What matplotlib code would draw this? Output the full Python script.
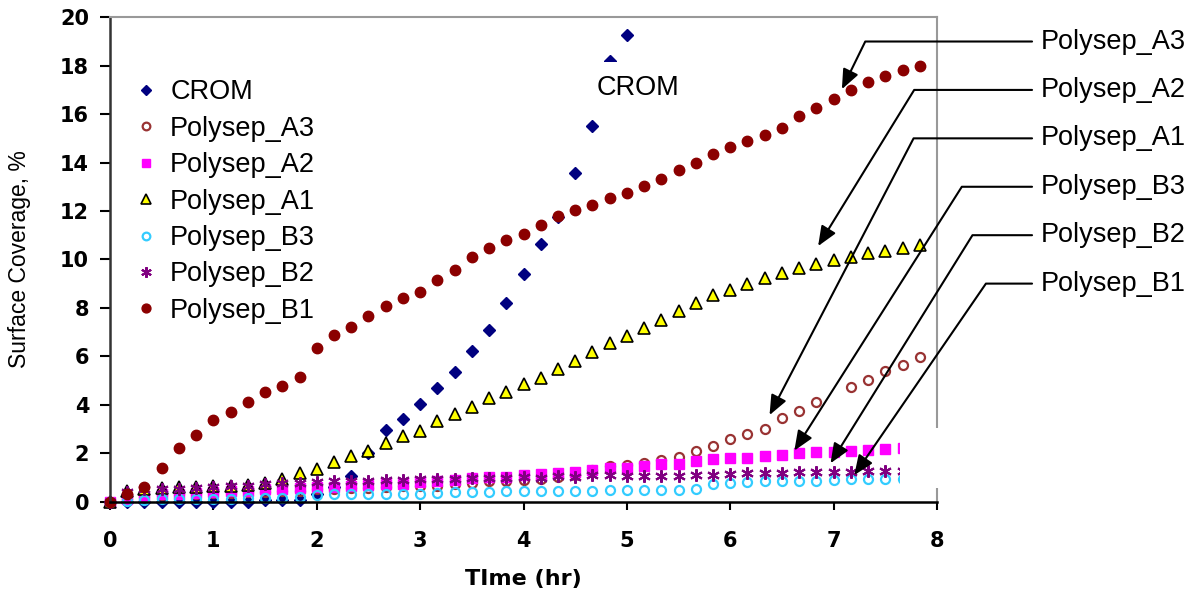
import numpy as np
import matplotlib
matplotlib.use("Agg")
import matplotlib.pyplot as plt
from matplotlib.patches import Rectangle

plt.rcParams['font.family'] = ['Liberation Sans', 'DejaVu Sans']

# sampling every 10 minutes (hours)
step = 1 / 6

crom = [0, 0, 0, 0, 0, 0, 0, 0, 0, 0.05, 0.05, 0.05, 0.3, 0.6, 1.05, 2.0,
        2.95, 3.42, 4.03, 4.7, 5.35, 6.2, 7.07, 8.2, 9.4, 10.65, 11.75, 13.55,
        15.5, 18.2, 19.25]
a3 = [0, 0.1, 0.2, 0.25, 0.3, 0.3, 0.35, 0.35, 0.4, 0.4, 0.45, 0.45, 0.5, 0.5,
      0.55, 0.55, 0.6, 0.62, 0.66, 0.66, 0.72, 0.78, 0.86, 0.86, 0.9, 0.95,
      1.0, 1.1, 1.3, 1.47, 1.5, 1.61, 1.7, 1.84, 2.1, 2.3, 2.58, 2.8, 3.0,
      3.45, 3.72, 4.1, np.nan, 4.71, 5.02, 5.4, 5.64, 5.98]
a2 = [0, 0.1, 0.2, 0.3, 0.33, 0.36, 0.38, 0.42, 0.45, 0.5, 0.52, 0.55, 0.58,
      0.6, 0.63, 0.7, 0.72, 0.74, 0.8, 0.85, 0.9, 0.97, 1.0, 1.02, 1.08, 1.14,
      1.17, 1.23, 1.3, 1.37, 1.4, 1.45, 1.53, 1.56, 1.67, 1.77, 1.8, 1.81,
      1.86, 1.94, 2.02, 2.04, 2.05, 2.08, 2.14, 2.15, 2.2]
a1 = [0, 0.45, 0.5, 0.55, 0.6, 0.6, 0.62, 0.65, 0.7, 0.78, 0.95, 1.17, 1.36,
      1.63, 1.86, 2.08, 2.4, 2.72, 2.93, 3.31, 3.62, 3.92, 4.27, 4.54, 4.86,
      5.1, 5.47, 5.82, 6.19, 6.54, 6.84, 7.15, 7.49, 7.85, 8.19, 8.52, 8.74,
      8.97, 9.22, 9.42, 9.66, 9.82, 9.96, 10.11, 10.25, 10.34, 10.48, 10.59]
b3 = [0, 0.03, 0.08, 0.12, 0.12, 0.12, 0.12, 0.12, 0.13, 0.15, 0.15, 0.18,
      0.25, 0.3, 0.3, 0.31, 0.3, 0.31, 0.32, 0.34, 0.4, 0.4, 0.4, 0.44, 0.45,
      0.45, 0.45, 0.45, 0.45, 0.46, 0.48, 0.48, 0.48, 0.48, 0.52, 0.72, 0.75,
      0.79, 0.83, 0.83, 0.83, 0.84, 0.89, 0.93, 0.93, 0.93, 0.92]
b2 = [0, 0.4, 0.5, 0.52, 0.52, 0.55, 0.6, 0.62, 0.65, 0.72, 0.78, 0.78, 0.8,
      0.83, 0.86, 0.85, 0.88, 0.9, 0.93, 0.93, 0.95, 0.97, 0.97, 0.98, 1.0,
      0.98, 1.04, 1.03, 1.08, 1.08, 1.05, 1.05, 1.07, 1.07, 1.1, 1.1, 1.15,
      1.18, 1.18, 1.18, 1.23, 1.2, 1.23, 1.23, 1.26, 1.26, 1.25]
b1 = [0, 0.3, 0.6, 1.39, 2.2, 2.76, 3.35, 3.69, 4.13, 4.54, 4.79, 5.14, 6.34,
      6.87, 7.22, 7.67, 8.08, 8.42, 8.67, 9.14, 9.56, 10.11, 10.47, 10.82,
      11.06, 11.41, 11.81, 12.02, 12.25, 12.55, 12.74, 13.03, 13.32, 13.69,
      13.99, 14.35, 14.65, 14.9, 15.13, 15.42, 15.91, 16.27, 16.63, 16.98,
      17.34, 17.57, 17.82, 18.0]

# callout labels on the right and the points they point at
callout_labels = ['Polysep_A3', 'Polysep_A2', 'Polysep_A1',
                  'Polysep_B3', 'Polysep_B2', 'Polysep_B1']
callout_text_y = [19, 17, 15, 13, 11, 9]
callout_tips = [(7.08, 17.03), (6.85, 10.55), (6.38, 3.57),
                (6.62, 2.10), (6.97, 1.58), (7.20, 1.09)]
callout_angles = [63.9, 58.4, 62.5, 57.6, 58.1, 55.5]


def times(vals):
    return np.arange(len(vals)) * step


fig = plt.figure(figsize=(12.01, 5.97), dpi=100)
ax = fig.add_axes([110 / 1201, 95.5 / 597, 827 / 1201, 484.2 / 597])

kw = dict(linestyle='none', clip_on=False)
ax.plot(times(crom), crom, marker='D', ms=6, color='#000080', label='CROM', **kw)
ax.plot(times(a3), a3, marker='o', ms=6.5, mfc='none', mec='#993333', mew=1.6,
        label='Polysep_A3', **kw)
ax.plot(times(a2), a2, marker='s', ms=7, color='#FF00FF', label='Polysep_A2', **kw)
ax.plot(times(a1), a1, marker='^', ms=8.5, mfc='#FFFF00', mec='black', mew=1.2,
        label='Polysep_A1', **kw)
ax.plot(times(b3), b3, marker='o', ms=6.5, mfc='none', mec='#33CCFF', mew=1.6,
        label='Polysep_B3', **kw)
ax.plot(times(b2), b2, marker=(6, 2, 0), ms=9, mec='#800080', mew=1.5,
        label='Polysep_B2', **kw)
ax.plot(times(b1), b1, marker='o', ms=7.5, color='#8B0000', label='Polysep_B1', **kw)

ax.set_xlim(0, 8)
ax.set_ylim(0, 20)
ax.set_xticks(range(0, 9))
ax.set_yticks(range(0, 21, 2))
for lab in ax.get_xticklabels() + ax.get_yticklabels():
    lab.set_family('DejaVu Sans')
    lab.set_fontweight('bold')
    lab.set_fontsize(15)
ax.tick_params(axis='x', direction='out', length=6, width=1.5, pad=15)
ax.tick_params(axis='y', direction='out', length=7, width=1.5, pad=8)

ax.spines['left'].set_color('#333333')
ax.spines['left'].set_linewidth(1.8)
ax.spines['bottom'].set_color('black')
ax.spines['bottom'].set_linewidth(1.8)
for s in ['top', 'right']:
    ax.spines[s].set_color('#999999')
    ax.spines[s].set_linewidth(1.5)

ax.set_xlabel('TIme (hr)', family='DejaVu Sans', fontweight='bold', fontsize=16)
ax.xaxis.set_label_coords(0.5, -0.14)
ax.set_ylabel('Surface Coverage, %', fontsize=16.5)
ax.yaxis.set_label_coords(-0.095, 0.5)

leg = ax.legend(loc='upper left', bbox_to_anchor=(0.027, 0.872), frameon=False,
                fontsize=19.5, handlelength=1.0, handletextpad=0.4,
                labelspacing=0.385, borderpad=0, borderaxespad=0, markerscale=0.85)

ax.text(5.11, 17.1, 'CROM', fontsize=19.5, ha='center', va='center',
        bbox=dict(facecolor='white', edgecolor='none', pad=9))

# white patch hiding the chart corner, as in the source image
ax.add_patch(Rectangle((7.64, 0.55), 0.45, 2.5, transform=ax.transData,
                       facecolor='white', edgecolor='none', zorder=5, clip_on=False))

for lab, ty, tip, ang in zip(callout_labels, callout_text_y, callout_tips, callout_angles):
    ax.annotate(lab, xy=tip, xytext=(9.0, ty), textcoords='data',
                fontsize=19.5, ha='left', va='center', annotation_clip=False,
                arrowprops=dict(arrowstyle='-|>,head_length=0.6,head_width=0.25',
                                connectionstyle=f'angle,angleA=0,angleB={ang},rad=0',
                                relpos=(0, 0.5), shrinkA=4, shrinkB=0,
                                color='black', lw=1.5, mutation_scale=20),
                zorder=6)

fig.savefig('out.png', dpi=100)
